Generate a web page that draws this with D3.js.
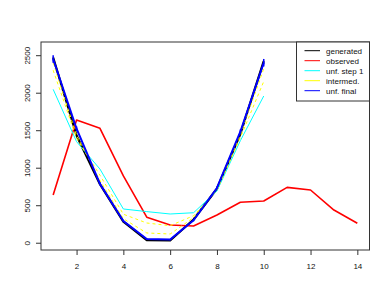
<!DOCTYPE html>
<html>
<head>
<meta charset="utf-8">
<script src="https://cdn.jsdelivr.net/npm/d3@7"></script>
<style>
  body { margin: 0; background: #fff; }
  svg { display: block; font-family: "Liberation Sans", Arial, sans-serif; }
</style>
</head>
<body>
<svg id="chart" width="390" height="302"></svg>
<script>
// Data
const binsShort = [1, 2, 3, 4, 5, 6, 7, 8, 9, 10];
const binsLong  = [1, 2, 3, 4, 5, 6, 7, 8, 9, 10, 11, 12, 13, 14];

const generated = [2470, 1430, 780, 280, 35, 30, 310, 720, 1450, 2420];
const observed  = [636, 1636, 1525, 890, 340, 236, 223, 370, 539, 556, 738, 703, 436, 259];
const unfStep1  = [2045, 1347, 982, 450, 415, 383, 400, 690, 1360, 1956];
const intermed1 = [2300, 1390, 900, 380, 263, 227, 360, 700, 1400, 2150];
const intermed2 = [2400, 1430, 830, 320, 130, 116, 335, 715, 1440, 2320];
const unfFinal  = [2450, 1520, 785, 290, 50, 42, 300, 730, 1480, 2400];
const unfErr    = [50, 30, 20, 15, 8, 8, 15, 20, 30, 50];

const xTicks = [2, 4, 6, 8, 10, 12, 14];
const yTicks = [0, 500, 1000, 1500, 2000, 2500];

const legendItems = [
  { label: "generated",   color: "#000000" },
  { label: "observed",    color: "#ff0000" },
  { label: "unf. step 1", color: "#00ffff" },
  { label: "intermed.",   color: "#ffff00" },
  { label: "unf. final",  color: "#0000ff" }
];

const svg = d3.select("#chart");
const box = { left: 41, right: 369.5, top: 42, bottom: 250 };

const x = d3.scaleLinear().domain([0.48, 14.52]).range([box.left, box.right]);
const y = d3.scaleLinear().domain([-97, 2676]).range([box.bottom, box.top]);

// axes
const xAxis = svg.append("g")
  .attr("transform", `translate(0,${box.bottom})`)
  .call(d3.axisBottom(x).tickValues(xTicks).tickFormat(d3.format("d")).tickSize(5).tickPadding(8));
const yAxis = svg.append("g")
  .attr("transform", `translate(${box.left},0)`)
  .call(d3.axisLeft(y).tickValues(yTicks).tickFormat(d3.format("d")).tickSize(5));

[xAxis, yAxis].forEach(a => {
  a.attr("font-family", "Liberation Sans, Arial, sans-serif");
  a.select(".domain").remove();
  a.selectAll("line").attr("stroke", "#333");
  a.selectAll("text").attr("font-size", 8).attr("fill", "#111");
});
// R style: y labels rotated, parallel to the axis
yAxis.selectAll(".tick text")
  .attr("x", 0).attr("y", 0).attr("dy", 0)
  .attr("text-anchor", "middle")
  .attr("transform", "translate(-11,0) rotate(-90)");

// plot frame
svg.append("rect")
  .attr("x", box.left).attr("y", box.top)
  .attr("width", box.right - box.left).attr("height", box.bottom - box.top)
  .attr("fill", "none").attr("stroke", "#333").attr("stroke-width", 1);

const line = d3.line().x(d => x(d[0])).y(d => y(d[1]));
const zip = (xs, ys) => xs.map((v, i) => [v, ys[i]]);

function drawLine(vals, bins, color, width, dash) {
  svg.append("path")
    .datum(zip(bins, vals))
    .attr("fill", "none")
    .attr("stroke", color)
    .attr("stroke-width", width)
    .attr("stroke-dasharray", dash || null)
    .attr("stroke-linejoin", "round")
    .attr("d", line);
}

drawLine(generated, binsShort, "#000000", 2.2);
drawLine(observed, binsLong, "#ff0000", 1.6);
drawLine(unfStep1, binsShort, "#00ffff", 1);
drawLine(intermed1, binsShort, "#ffff00", 1, "3,3");
drawLine(intermed2, binsShort, "#ffff00", 1, "3,3");
drawLine(unfFinal, binsShort, "#0000ff", 2);

// small error bars on final unfolded points
svg.append("g").selectAll("line")
  .data(binsShort)
  .join("line")
    .attr("x1", d => x(d)).attr("x2", d => x(d))
    .attr("y1", (d, i) => y(unfFinal[i] - unfErr[i]))
    .attr("y2", (d, i) => y(unfFinal[i] + unfErr[i]))
    .attr("stroke", "#0000ff").attr("stroke-width", 1.5);

// legend
const lg = svg.append("g");
lg.append("rect")
  .attr("x", 296.5).attr("y", box.top)
  .attr("width", box.right - 296.5).attr("height", 101 - box.top)
  .attr("fill", "#fff").attr("stroke", "#333").attr("stroke-width", 1);
legendItems.forEach((it, i) => {
  const yy = 50.7 + i * 10;
  lg.append("line")
    .attr("x1", 304.5).attr("x2", 320).attr("y1", yy).attr("y2", yy)
    .attr("stroke", it.color).attr("stroke-width", 1);
  lg.append("text")
    .attr("x", 326).attr("y", yy).attr("dy", "0.35em")
    .attr("font-size", 8).attr("fill", "#111")
    .text(it.label);
});
</script>
</body>
</html>
